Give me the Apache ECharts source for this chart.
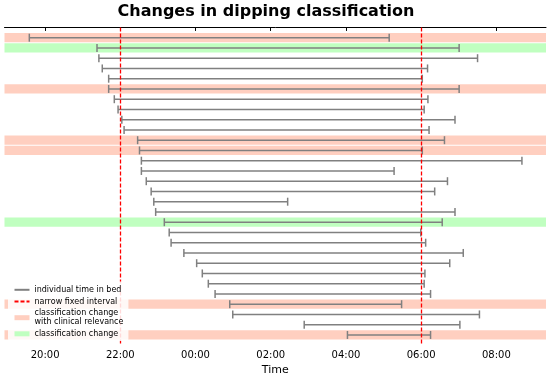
<!DOCTYPE html>
<html><head><meta charset="utf-8">
<script src="https://cdn.jsdelivr.net/npm/echarts@6/dist/echarts.min.js"></script>
<style>html,body{margin:0;padding:0;background:#fff}#c{width:550px;height:378px}</style>
</head><body><div id="c"></div>
<script>
// Row index (1 = top), times in decimal hours (values > 24 are after midnight)
const rowIds = [1,2,3,4,5,6,7,8,9,10,11,12,13,14,15,16,17,18,19,20,21,22,23,24,25,26,27,28,29,30];
const bedStart = [19.58,21.38,21.43,21.52,21.69,21.69,21.84,21.94,22.04,22.10,22.46,22.51,22.56,22.56,22.69,22.82,22.89,22.94,23.17,23.30,23.35,23.69,24.03,24.18,24.34,24.52,24.91,24.99,26.89,28.04];
const bedEnd   = [29.15,31.01,31.50,30.17,30.03,31.01,30.18,30.08,30.90,30.21,30.62,30.03,32.68,29.28,30.70,30.36,26.45,30.90,30.56,29.99,30.12,31.12,30.76,30.10,30.08,30.25,29.48,31.55,31.03,30.25];
const clinicalRows = [1,6,11,12,27,30];
const changeRows = [2,19];
const fixedInterval = [22, 30];
const tickHours = [20,22,24,26,28,30,32];
const tickLabels = ['20:00','22:00','00:00','02:00','04:00','06:00','08:00'];

const xMin = 18.92, xMax = 33.32;
const chart = echarts.init(document.getElementById('c'), null, {renderer:'canvas'});

const intervalData = rowIds.map((r,i)=>[bedStart[i], bedEnd[i], r]);

function bandRender(params, api){
  const cs = params.coordSys;
  const c = api.coord([xMin, api.value(0)]);
  const hh = api.size([0, 0.9])[1];
  return {type:'rect', shape:{x:cs.x, y:c[1]-hh/2, width:cs.width, height:hh},
          style:{fill: api.visual('color')}};
}

const option = {
  animation:false,
  backgroundColor:'#fff',
  title:{text:'Changes in dipping classification', left:261, top:-1, textAlign:'center',
    textStyle:{fontFamily:'DejaVu Sans', fontSize:16, fontWeight:'bold', color:'#000'}},
  grid:{left:4.5, right:4, top:27.45, bottom:32.8, containLabel:false, outerBoundsMode:'none'},
  xAxis:{type:'value', min:xMin, max:xMax, name:'Time', nameLocation:'middle', nameGap:19,
    nameTextStyle:{fontFamily:'DejaVu Sans', fontSize:11, color:'#000'},
    axisLine:{show:true, lineStyle:{color:'#000', width:1}},
    axisTick:{show:true, customValues:tickHours, length:3.5, lineStyle:{color:'#000', width:1}},
    axisLabel:{customValues:tickHours, margin:5, fontFamily:'DejaVu Sans', fontSize:10, color:'#000',
      formatter:(v)=>tickLabels[tickHours.indexOf(v)]},
    splitLine:{show:false}},
  yAxis:{type:'value', min:0, max:31, inverse:true, show:false},
  legend:{orient:'vertical', left:8, top:281.5, padding:[4,5,3,5.5], itemGap:3.2, z:20,
    itemWidth:15, itemHeight:5, selectedMode:false,
    backgroundColor:'rgba(255,255,255,0.85)', borderRadius:2,
    textStyle:{fontFamily:'DejaVu Sans', fontSize:8, lineHeight:8.6, color:'#000'},
    data:[
      {name:'individual time in bed', itemStyle:{opacity:0}},
      {name:'narrow fixed interval', itemStyle:{opacity:0}},
      {name:'classification change\nwith clinical relevance', icon:'rect'},
      {name:'classification change', icon:'rect'}
    ]},
  series:[
    {name:'classification change\nwith clinical relevance', type:'custom', z:1, silent:true,
      itemStyle:{color:'#FFCFC0'}, encode:{y:0}, renderItem:bandRender,
      data:clinicalRows.map(r=>[r])},
    {name:'classification change', type:'custom', z:1, silent:true,
      itemStyle:{color:'#C0FFC0'}, encode:{y:0}, renderItem:bandRender,
      data:changeRows.map(r=>[r])},
    {name:'bed intervals', type:'custom', z:2, silent:true,
      itemStyle:{color:'#808080'}, encode:{x:[0,1], y:2},
      renderItem:function(params, api){
        const s = api.coord([api.value(0), api.value(2)]);
        const e = api.coord([api.value(1), api.value(2)]);
        const h = 4;
        const st = {stroke:'#808080', lineWidth:1.5};
        return {type:'group', children:[
          {type:'line', shape:{x1:s[0],y1:s[1],x2:e[0],y2:e[1]}, style:st},
          {type:'line', shape:{x1:s[0],y1:s[1]-h,x2:s[0],y2:s[1]+h}, style:st},
          {type:'line', shape:{x1:e[0],y1:e[1]-h,x2:e[0],y2:e[1]+h}, style:st}
        ]};
      },
      data:intervalData},
    {name:'individual time in bed', type:'line', data:[], symbol:'none', silent:true,
      lineStyle:{color:'#808080', width:1.5}, itemStyle:{color:'#808080'}},
    {name:'narrow fixed interval', type:'line', data:[], symbol:'none', silent:true, z:3,
      lineStyle:{color:'#FF0000', width:1.3, type:[4,2]}, itemStyle:{color:'#FF0000'},
      markLine:{silent:true, symbol:'none', z:3, label:{show:false},
        lineStyle:{color:'#FF0000', width:1.3, type:[4,2]},
        data:fixedInterval.map(v=>({xAxis:v}))}}
  ]
};
chart.setOption(option);
</script></body></html>
